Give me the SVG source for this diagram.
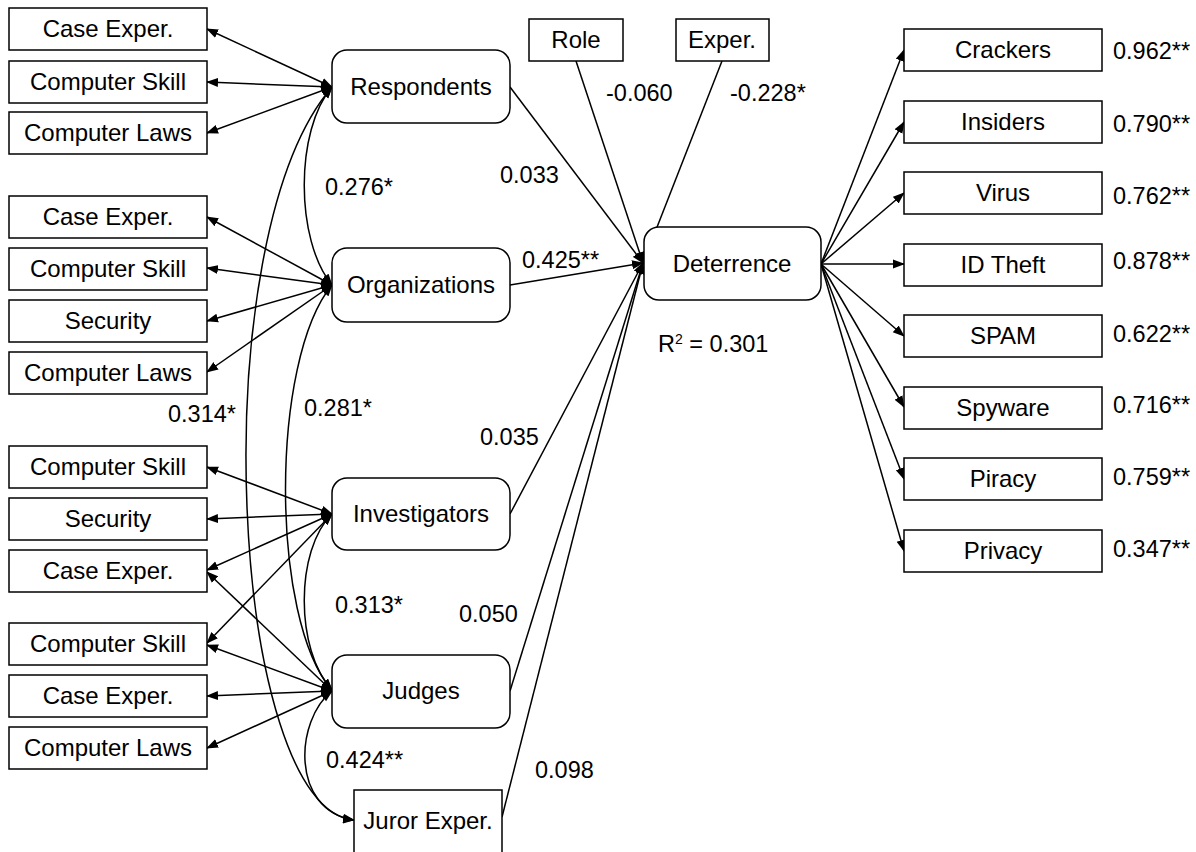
<svg xmlns="http://www.w3.org/2000/svg" width="1196" height="852" viewBox="0 0 1196 852">
<style>
.box{fill:#fff;stroke:#000;stroke-width:1.5}
.lat{fill:#fff;stroke:#000;stroke-width:1.5}
text{font-family:"Liberation Sans",Arial,sans-serif;font-size:23.5px;fill:#000}
.c{text-anchor:middle;font-size:24px}
.ln{fill:none;stroke:#000;stroke-width:1.5}
.one{marker-end:url(#ah)}
.two{marker-start:url(#ah);marker-end:url(#ah)}
</style>
<defs>
<marker id="ah" markerUnits="userSpaceOnUse" markerWidth="12" markerHeight="10" refX="11" refY="4.5" orient="auto-start-reverse" viewBox="0 0 12 9">
<path d="M0,0 L12,4.5 L0,9 z" fill="#000"/>
</marker>
</defs>
<rect width="1196" height="852" fill="#fff"/>
<g id="connectors">
<path class="ln two" d="M332,87 L207,29"/>
<path class="ln two" d="M332,87 L207,82"/>
<path class="ln two" d="M332,87 L207,133"/>
<path class="ln two" d="M332,285 L207,217"/>
<path class="ln two" d="M332,285 L207,268"/>
<path class="ln two" d="M332,285 L207,321"/>
<path class="ln two" d="M332,285 L207,372"/>
<path class="ln two" d="M332,514 L207,467"/>
<path class="ln two" d="M332,514 L207,519"/>
<path class="ln two" d="M332,514 L207,570"/>
<path class="ln two" d="M332,514 L207,643"/>
<path class="ln two" d="M332,691 L207,572"/>
<path class="ln two" d="M332,691 L207,645"/>
<path class="ln two" d="M332,691 L207,696"/>
<path class="ln two" d="M332,691 L207,748"/>
<path class="ln two" d="M332,87 C295,130 295,240 332,285"/>
<path class="ln two" d="M332,87 C200,240 230,810 354,820"/>
<path class="ln two" d="M332,285 C270,360 270,620 332,690"/>
<path class="ln two" d="M332,514 C295,550 295,650 332,690"/>
<path class="ln two" d="M332,691 C295,720 290,810 354,820"/>
<path class="ln one" d="M576,61 L643,263"/>
<path class="ln one" d="M722,61 L643,263"/>
<path class="ln one" d="M510,87 L643,263"/>
<path class="ln one" d="M510,285 L643,263"/>
<path class="ln one" d="M510,514 L643,263"/>
<path class="ln one" d="M510,691 L643,263"/>
<path class="ln one" d="M502,817 L643,263"/>
<path class="ln one" d="M821,264 L904,50"/>
<path class="ln one" d="M821,264 L904,122"/>
<path class="ln one" d="M821,264 L904,193"/>
<path class="ln one" d="M821,264 L904,264"/>
<path class="ln one" d="M821,264 L904,336"/>
<path class="ln one" d="M821,264 L904,407"/>
<path class="ln one" d="M821,264 L904,479"/>
<path class="ln one" d="M821,264 L904,551"/>
</g>
<g id="r_case"><rect class="box" x="9" y="8" width="198" height="42"/><text class="c" x="108" y="37">Case Exper.</text></g>
<g id="r_skill"><rect class="box" x="9" y="61" width="198" height="42"/><text class="c" x="108" y="90">Computer Skill</text></g>
<g id="r_laws"><rect class="box" x="9" y="112" width="198" height="42"/><text class="c" x="108" y="141">Computer Laws</text></g>
<g id="o_case"><rect class="box" x="9" y="196" width="198" height="42"/><text class="c" x="108" y="225">Case Exper.</text></g>
<g id="o_skill"><rect class="box" x="9" y="248" width="198" height="42"/><text class="c" x="108" y="277">Computer Skill</text></g>
<g id="o_sec"><rect class="box" x="9" y="300" width="198" height="42"/><text class="c" x="108" y="329">Security</text></g>
<g id="o_laws"><rect class="box" x="9" y="352" width="198" height="42"/><text class="c" x="108" y="381">Computer Laws</text></g>
<g id="i_skill"><rect class="box" x="9" y="446" width="198" height="42"/><text class="c" x="108" y="475">Computer Skill</text></g>
<g id="i_sec"><rect class="box" x="9" y="498" width="198" height="42"/><text class="c" x="108" y="527">Security</text></g>
<g id="i_case"><rect class="box" x="9" y="550" width="198" height="42"/><text class="c" x="108" y="579">Case Exper.</text></g>
<g id="j_skill"><rect class="box" x="9" y="623" width="198" height="42"/><text class="c" x="108" y="652">Computer Skill</text></g>
<g id="j_case"><rect class="box" x="9" y="675" width="198" height="42"/><text class="c" x="108" y="704">Case Exper.</text></g>
<g id="j_laws"><rect class="box" x="9" y="727" width="198" height="42"/><text class="c" x="108" y="756">Computer Laws</text></g>
<g id="respondents"><rect class="lat" x="332" y="50" width="178" height="73" rx="15"/><text class="c" x="421" y="95">Respondents</text></g>
<g id="organizations"><rect class="lat" x="332" y="248" width="178" height="74" rx="15"/><text class="c" x="421" y="293">Organizations</text></g>
<g id="investigators"><rect class="lat" x="332" y="478" width="178" height="72" rx="15"/><text class="c" x="421" y="522">Investigators</text></g>
<g id="judges"><rect class="lat" x="332" y="655" width="178" height="73" rx="15"/><text class="c" x="421" y="699">Judges</text></g>
<g id="juror"><rect class="box" x="354" y="790" width="148" height="75"/><text class="c" x="428" y="829">Juror Exper.</text></g>
<g id="role"><rect class="box" x="529" y="19" width="94" height="42"/><text class="c" x="576" y="48">Role</text></g>
<g id="exper"><rect class="box" x="676" y="19" width="93" height="42"/><text class="c" x="722" y="48">Exper.</text></g>
<g id="deterrence"><rect class="lat" x="644" y="227" width="177" height="73" rx="15"/><text class="c" x="732" y="272">Deterrence</text></g>
<g id="crackers"><rect class="box" x="904" y="29" width="198" height="42"/><text class="c" x="1003" y="58">Crackers</text></g>
<g id="insiders"><rect class="box" x="904" y="101" width="198" height="42"/><text class="c" x="1003" y="130">Insiders</text></g>
<g id="virus"><rect class="box" x="904" y="172" width="198" height="42"/><text class="c" x="1003" y="201">Virus</text></g>
<g id="idtheft"><rect class="box" x="904" y="244" width="198" height="42"/><text class="c" x="1003" y="273">ID Theft</text></g>
<g id="spam"><rect class="box" x="904" y="315" width="198" height="42"/><text class="c" x="1003" y="344">SPAM</text></g>
<g id="spyware"><rect class="box" x="904" y="387" width="198" height="42"/><text class="c" x="1003" y="416">Spyware</text></g>
<g id="piracy"><rect class="box" x="904" y="458" width="198" height="42"/><text class="c" x="1003" y="487">Piracy</text></g>
<g id="privacy"><rect class="box" x="904" y="530" width="198" height="42"/><text class="c" x="1003" y="559">Privacy</text></g>
<g id="labels">
<text x="325" y="195">0.276*</text>
<text x="168" y="422">0.314*</text>
<text x="304" y="416">0.281*</text>
<text x="335" y="613">0.313*</text>
<text x="326" y="768">0.424**</text>
<text x="535" y="778">0.098</text>
<text x="459" y="622">0.050</text>
<text x="480" y="445">0.035</text>
<text x="500" y="183">0.033</text>
<text x="522" y="268">0.425**</text>
<text x="606" y="101">-0.060</text>
<text x="730" y="101">-0.228*</text>
<text x="658" y="352">R<tspan dy="-8" font-size="14">2</tspan><tspan dy="8"> = 0.301</tspan></text>
<text x="1113" y="59">0.962**</text>
<text x="1113" y="132">0.790**</text>
<text x="1113" y="204">0.762**</text>
<text x="1113" y="269">0.878**</text>
<text x="1113" y="342">0.622**</text>
<text x="1113" y="413">0.716**</text>
<text x="1113" y="485">0.759**</text>
<text x="1113" y="557">0.347**</text>
</g>
</svg>
